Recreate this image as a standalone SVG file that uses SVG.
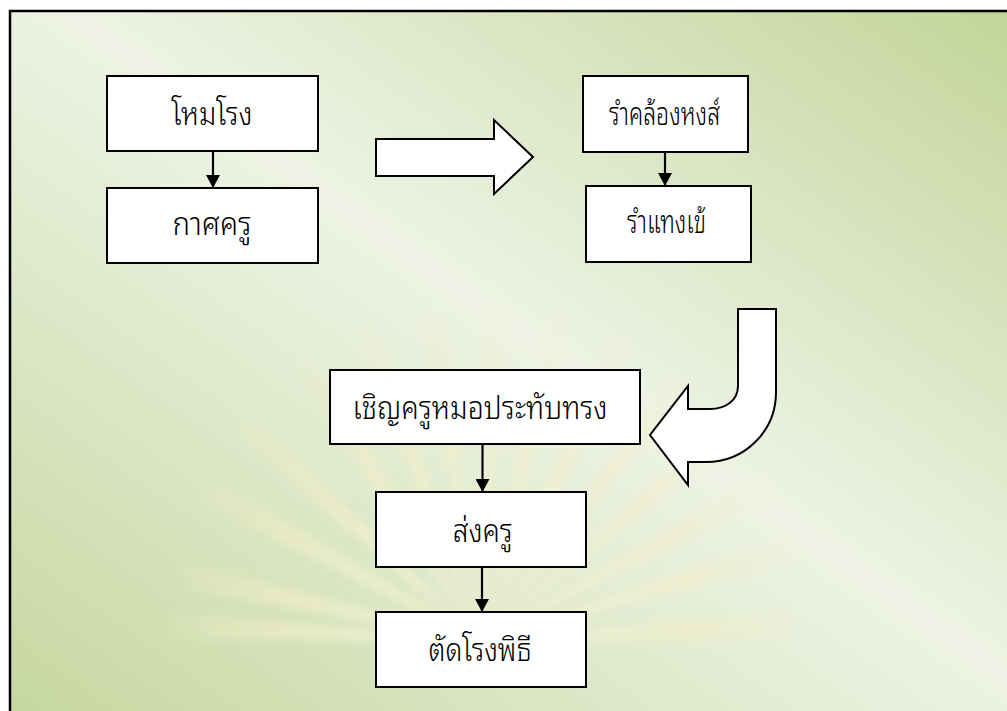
<svg xmlns="http://www.w3.org/2000/svg" width="1007" height="711" viewBox="0 0 1007 711">
  <defs>
    <linearGradient id="bg" gradientUnits="userSpaceOnUse" x1="1007" y1="0" x2="300" y2="1000">
      <stop offset="0" stop-color="#c2d498"/>
      <stop offset="0.45" stop-color="#eef3e5"/>
      <stop offset="1" stop-color="#c2d498"/>
    </linearGradient>
    <radialGradient id="rayFade" cx="480" cy="640" r="340" gradientUnits="userSpaceOnUse">
      <stop offset="0" stop-color="#fbf7e2" stop-opacity="0.95"/>
      <stop offset="0.65" stop-color="#f3eec6" stop-opacity="0.6"/>
      <stop offset="1" stop-color="#f3eec6" stop-opacity="0"/>
    </radialGradient>
    <filter id="soft" x="-20%" y="-20%" width="140%" height="140%">
      <feGaussianBlur stdDeviation="4"/>
    </filter>
    <marker id="head" markerWidth="14" markerHeight="14" refX="13" refY="7" orient="auto" markerUnits="userSpaceOnUse">
      <path d="M0,0 L13,7 L0,14 Z" fill="#000"/>
    </marker>
  </defs>
  <style>
    .box { fill: #ffffff; stroke: #000; stroke-width: 2; }
    .label { font-family: "Noto Sans Thai Looped", "Noto Sans Thai", "Noto Sans", sans-serif; font-size: 31px; font-weight: 300; fill: #000; text-anchor: middle; }
    .link { stroke: #000; stroke-width: 2.2; fill: none; marker-end: url(#head); }
    .block { fill: #ffffff; stroke: #000; stroke-width: 2; stroke-linejoin: miter; }
  </style>

  <!-- page background and frame -->
  <rect x="0" y="0" width="1007" height="711" fill="#ffffff"/>
  <rect x="10" y="11" width="1000" height="710" fill="url(#bg)"/>
  <path d="M10,711 L10,11 L1007,11" fill="none" stroke="#000" stroke-width="2.5"/>

  <!-- faint sunburst seal in the lower middle -->
  <g id="seal" filter="url(#soft)" opacity="0.85">
    <g fill="url(#rayFade)">
      <path d="M480,640 L180,560 L185,590 Z"/>
      <path d="M480,640 L200,470 L195,500 Z"/>
      <path d="M480,640 L240,400 L225,425 Z"/>
      <path d="M480,640 L300,330 L280,350 Z"/>
      <path d="M480,640 L370,300 L345,310 Z"/>
      <path d="M480,640 L440,280 L415,285 Z"/>
      <path d="M480,640 L510,280 L485,280 Z"/>
      <path d="M480,640 L580,290 L555,285 Z"/>
      <path d="M480,640 L650,315 L625,305 Z"/>
      <path d="M480,640 L715,360 L695,345 Z"/>
      <path d="M480,640 L760,420 L745,400 Z"/>
      <path d="M480,640 L790,490 L780,465 Z"/>
      <path d="M480,640 L800,560 L795,535 Z"/>
      <path d="M480,640 L790,640 L795,612 Z"/>
      <path d="M480,640 L170,640 L172,612 Z"/>
    </g>
  </g>

  <!-- connectors -->
  <g id="connectors">
    <line class="link" x1="213" y1="143" x2="213" y2="188"/>
    <line class="link" x1="665" y1="143" x2="665" y2="186"/>
    <line class="link" x1="482.5" y1="435" x2="482.5" y2="492"/>
    <line class="link" x1="482" y1="563" x2="482" y2="612"/>
    <!-- wide block arrow between the two top columns -->
    <path class="block" d="M376,139 L494,139 L494,120 L533,157 L494,194 L494,176 L376,176 Z"/>
    <!-- U-turn arrow leading back to the lower column -->
    <path class="block" d="M738,309 L776,309 L776,392 C776,432 744,462 706,462 L688,462 L688,485 L650,435 L688,386 L688,409 L710,409 C726,409 738,400 738,386 Z"/>
  </g>

  <g id="n1">
    <rect class="box" x="107" y="76" width="211" height="75"/>
    <text class="label" x="212" y="125" textLength="81" lengthAdjust="spacingAndGlyphs">โหมโรง</text>
  </g>
  <g id="n2">
    <rect class="box" x="107" y="188" width="211" height="75"/>
    <text class="label" x="212" y="235" textLength="79" lengthAdjust="spacingAndGlyphs">กาศครู</text>
  </g>
  <g id="n3">
    <rect class="box" x="583" y="76" width="165" height="76"/>
    <text class="label" x="664.5" y="125" textLength="111" lengthAdjust="spacingAndGlyphs">รำคล้องหงส์</text>
  </g>
  <g id="n4">
    <rect class="box" x="586" y="186" width="165" height="76"/>
    <text class="label" x="666.5" y="233" textLength="79" lengthAdjust="spacingAndGlyphs">รำแทงเข้</text>
  </g>
  <g id="n5">
    <rect class="box" x="330" y="370" width="310" height="74"/>
    <text class="label" x="480" y="419" textLength="255" lengthAdjust="spacingAndGlyphs">เชิญครูหมอประทับทรง</text>
  </g>
  <g id="n6">
    <rect class="box" x="376" y="492" width="210" height="75"/>
    <text class="label" x="482.7" y="542" textLength="60" lengthAdjust="spacingAndGlyphs">ส่งครู</text>
  </g>
  <g id="n7">
    <rect class="box" x="376" y="612" width="210" height="75"/>
    <text class="label" x="480" y="661" textLength="103" lengthAdjust="spacingAndGlyphs">ตัดโรงพิธี</text>
  </g>
</svg>
